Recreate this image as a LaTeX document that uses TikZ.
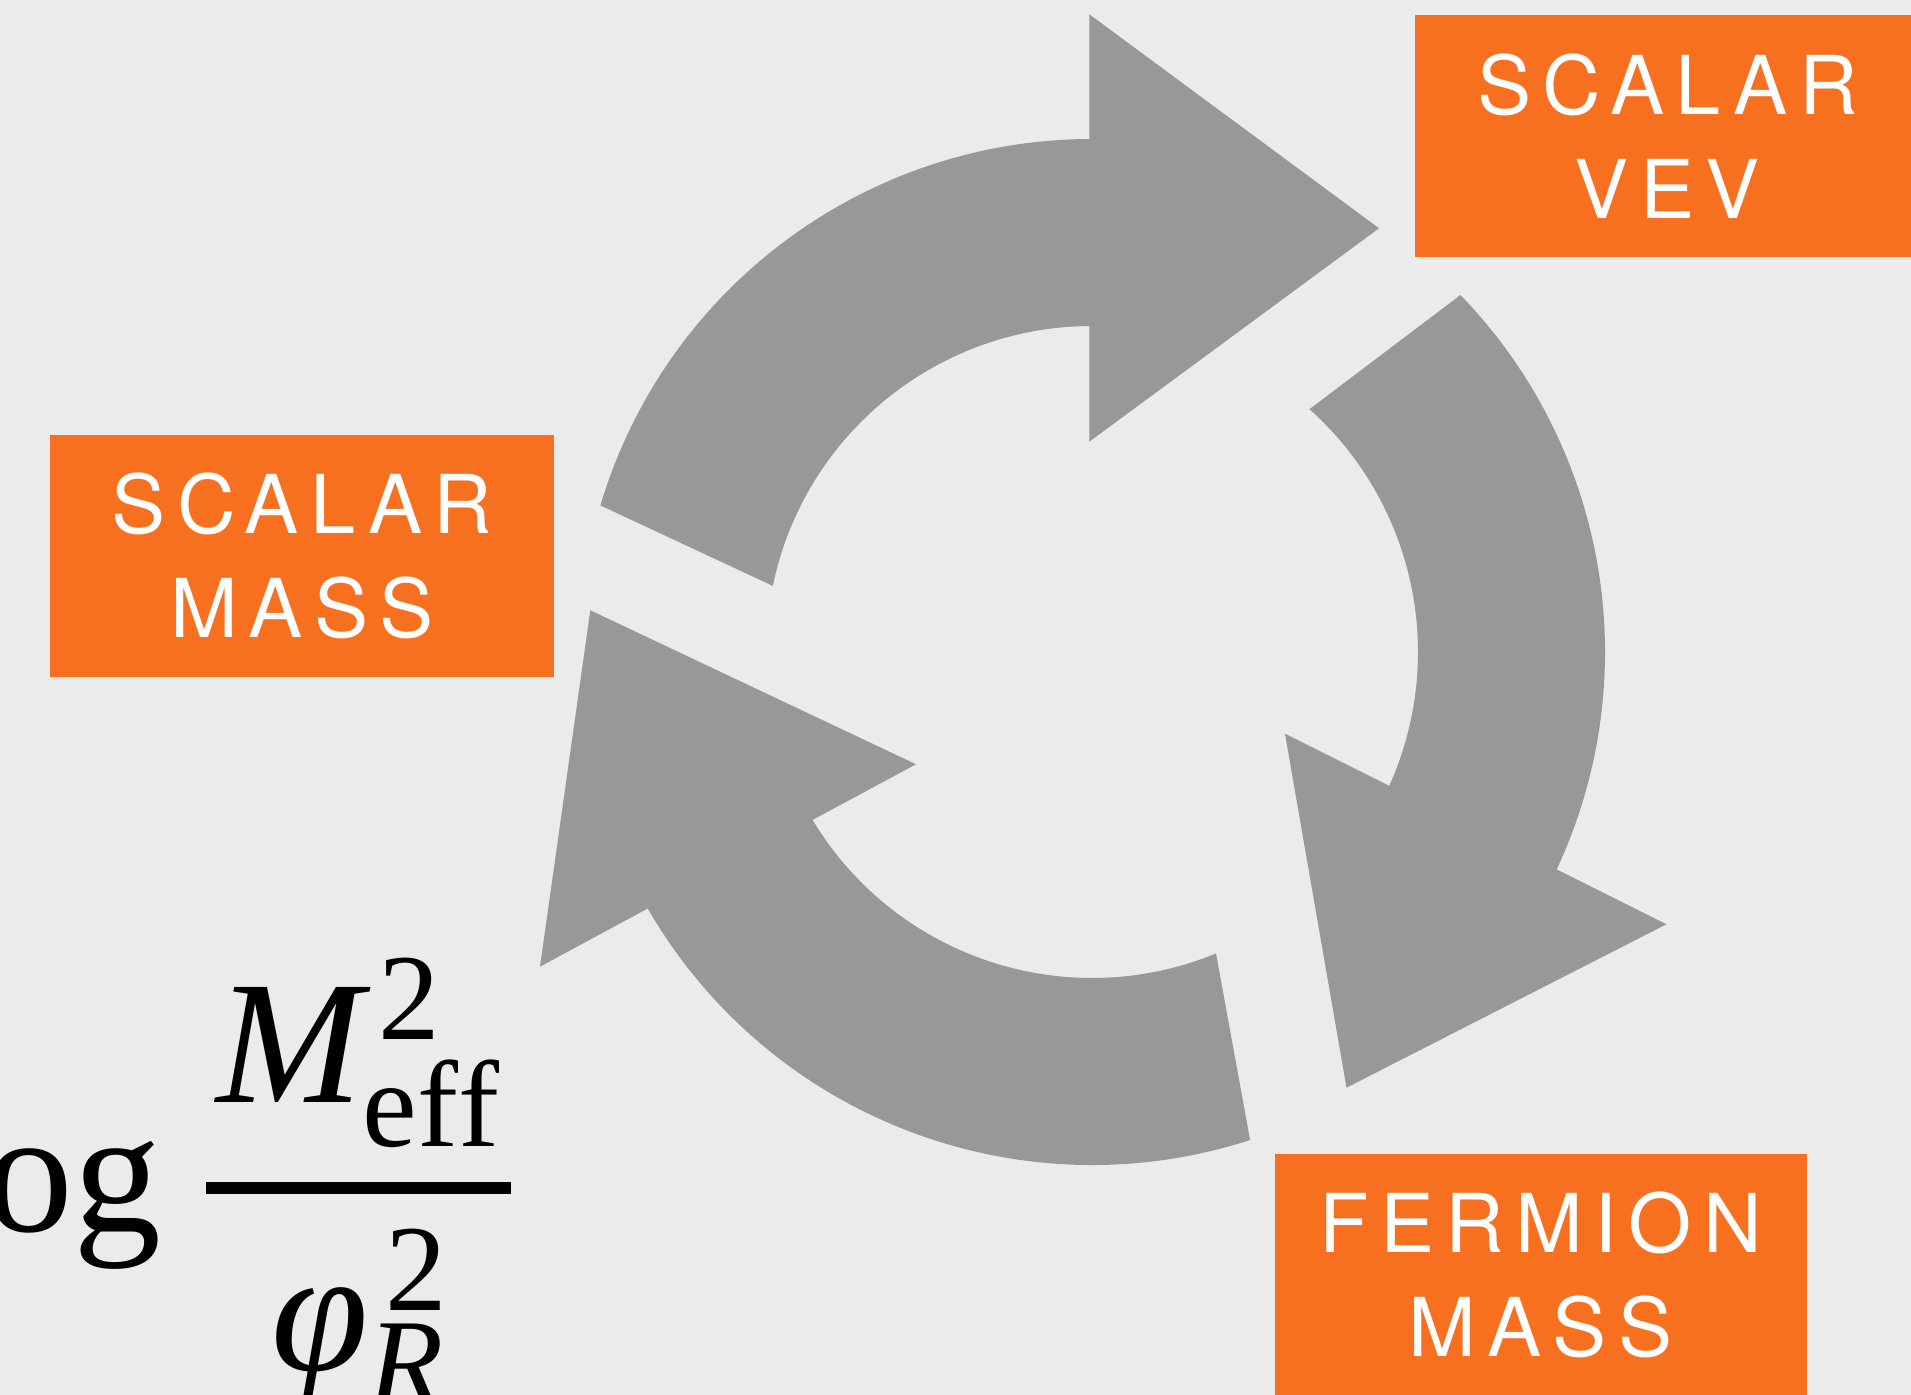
\documentclass[tikz,border=0pt]{standalone}
\usepackage{fix-cm}
\usepackage{amsmath}
\usepackage{fontspec}
\setmainfont{Liberation Serif}
\newfontfamily\boxfont[LetterSpace=14]{TeX Gyre Heros}
\usetikzlibrary{calc}
\definecolor{bggray}{HTML}{EBEBEB}
\definecolor{arrowgray}{HTML}{969997}
\definecolor{boxorange}{HTML}{F77020}
\begin{document}
\begin{tikzpicture}[
    stagebox/.style={fill=boxorange, text=white, minimum width=5.04cm, minimum height=2.417cm,
        inner sep=0pt, align=center, font=\boxfont\fontsize{23.1}{29.5}\selectfont},
    cyclearrow/.style={fill=arrowgray}
]
    % page and background
    \useasboundingbox (0,0) rectangle (19.11,13.95);
    \fill[bggray] (0,0) rectangle (19.11,13.95);
    \coordinate (hub) at (10.92,7.43);

    % top arrow: outer r = 5.13, inner r = 3.26
    \fill[cyclearrow] ($(hub)+(163.4:5.13)$) arc[start angle=163.4, end angle=90.3, radius=5.13]
        -- (10.893,13.807) -- (13.79,11.667) -- (10.893,9.533)
        -- ($(hub)+(90.47:3.26)$) arc[start angle=90.47, end angle=168.3, radius=3.26] -- cycle;

    % right arrow
    \fill[cyclearrow] ($(hub)+(44.09:5.13)$) arc[start angle=44.09, end angle=-25.08, radius=5.13]
        -- (16.664,4.707) -- (13.465,3.073) -- (12.85,6.613)
        -- ($(hub)+(-24.23:3.26)$) arc[start angle=-24.23, end angle=48.15, radius=3.26] -- cycle;

    % bottom arrow
    \fill[cyclearrow] ($(hub)+(-72.05:5.13)$) arc[start angle=-72.05, end angle=-150, radius=5.13]
        -- (5.40,4.283) -- (5.903,7.847) -- (9.16,6.307)
        -- ($(hub)+(-149:3.26)$) arc[start angle=-149, end angle=-67.64, radius=3.26] -- cycle;

    % orange boxes
    \node[stagebox] (smass) at (3.021,8.392) {SCALAR\\MASS};
    \node[stagebox, minimum width=5.05cm] (vev) at (16.675,12.59) {SCALAR\\VEV};
    \node[stagebox, minimum width=5.32cm] (fmass) at (15.405,1.202) {FERMION\\MASS};

    % log ratio, cut at the left edge
    \node[anchor=base east, inner sep=0pt, font=\fontsize{50}{60}\selectfont] (ratio) at (5.162,1.63)
        {$\displaystyle\mathop{\mathrm{log}}\nolimits\kern3pt\genfrac{}{}{3.3pt}{0}%
        {\kern3pt\mathit{M}_{\mathrm{eff}}^{\kern4.5pt\mathrm{2}}\kern3pt}%
        {\text{\itshape φ}_{\mathit{R}}^{\kern4.8pt\mathrm{2}}\kern-1pt}$};
\end{tikzpicture}
\end{document}
